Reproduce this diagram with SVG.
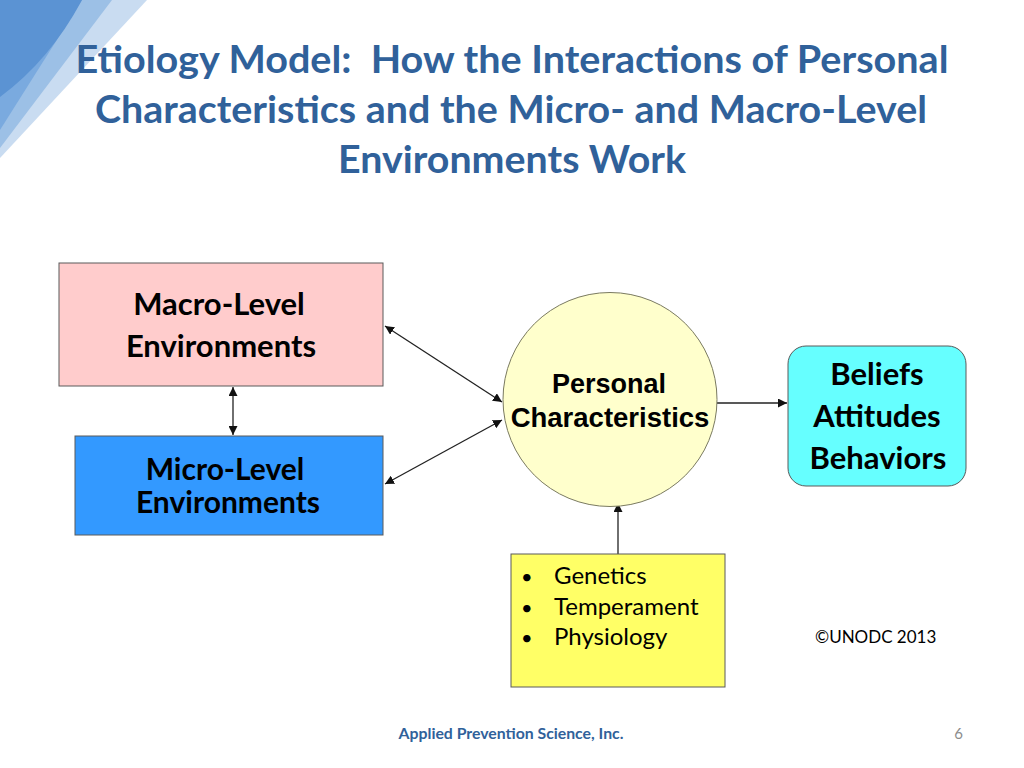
<svg xmlns="http://www.w3.org/2000/svg" width="1024" height="768" viewBox="0 0 1024 768">
<defs>
<style>
.title{font-family:Lato,"Open Sans","Liberation Sans",sans-serif;font-weight:bold;font-size:38px;fill:#30619A;text-anchor:middle}
.box{stroke:#5a5a5a;stroke-width:1}
.cal{font-family:Lato,"Open Sans","Liberation Sans",sans-serif;font-weight:bold;fill:#000;text-anchor:middle}
.ari{font-family:"Liberation Sans",Arial,sans-serif;font-weight:bold;fill:#000;text-anchor:middle}
.reg{font-family:Lato,"Open Sans","Liberation Sans",sans-serif;fill:#000}
.conn{stroke:#222;stroke-width:1.3;fill:none}
</style>
<marker id="ah" viewBox="0 0 10 10" refX="10" refY="5" markerWidth="9" markerHeight="9" markerUnits="userSpaceOnUse" orient="auto-start-reverse">
<path d="M0,0 L10,5 L0,10 Z" fill="#111"/>
</marker>
</defs>
<rect width="1024" height="768" fill="#fff"/>
<g id="decoration">
<polygon points="0,0 147,0 0,158" fill="#c9dcf1"/>
<polygon points="0,0 112,0 0,148" fill="#9cc0e6"/>
<polygon points="0,0 82,0 0,130" fill="#7aaadf"/>
<path d="M0,0 L82,0 Q50,60 0,97 Z" fill="#5b93d3"/>
</g>
<g id="title">
<text class="title" x="512" y="73" textLength="873" lengthAdjust="spacingAndGlyphs" xml:space="preserve">Etiology Model:  How the Interactions of Personal</text>
<text class="title" x="511" y="123" textLength="832" lengthAdjust="spacingAndGlyphs">Characteristics and the Micro- and Macro-Level</text>
<text class="title" x="512" y="173" textLength="348" lengthAdjust="spacingAndGlyphs">Environments Work</text>
</g>
<g id="connectors">
<line class="conn" x1="233" y1="387" x2="233" y2="435" marker-start="url(#ah)" marker-end="url(#ah)"/>
<line class="conn" x1="385" y1="326" x2="502" y2="402" marker-start="url(#ah)" marker-end="url(#ah)"/>
<line class="conn" x1="502" y1="420" x2="385" y2="484" marker-start="url(#ah)" marker-end="url(#ah)"/>
<line class="conn" x1="717" y1="403" x2="787" y2="403" marker-end="url(#ah)"/>
<line class="conn" x1="618" y1="554" x2="618" y2="503" marker-end="url(#ah)"/>
</g>
<g id="macro">
<rect class="box" x="59" y="263" width="324" height="123" fill="#FFCCCC"/>
<text class="cal" x="219" y="315" font-size="31">Macro-Level</text>
<text class="cal" x="221" y="357" font-size="31">Environments</text>
</g>
<g id="micro">
<rect class="box" x="75" y="436" width="308" height="99" fill="#3399FF"/>
<text class="cal" x="225" y="480" font-size="30">Micro-Level</text>
<text class="cal" x="228" y="513" font-size="30">Environments</text>
</g>
<g id="personal">
<circle cx="610" cy="399.5" r="107" fill="#FFFFCC" stroke="#7a7a60" stroke-width="1"/>
<text class="ari" x="609" y="393" font-size="27">Personal</text>
<text class="ari" x="610" y="427" font-size="27.5">Characteristics</text>
</g>
<g id="beliefs">
<rect class="box" x="788" y="346" width="178" height="140" rx="18" fill="#66FFFF"/>
<text class="cal" x="877" y="385" font-size="31">Beliefs</text>
<text class="cal" x="877" y="427" font-size="31">Attitudes</text>
<text class="cal" x="878" y="469" font-size="31">Behaviors</text>
</g>
<g id="factors">
<rect class="box" x="511" y="554" width="214" height="133" fill="#FFFF66"/>
<text class="reg" font-size="24"><tspan x="521" y="584" font-size="20">•</tspan><tspan x="554" y="584">Genetics</tspan></text>
<text class="reg" font-size="24"><tspan x="521" y="615" font-size="20">•</tspan><tspan x="554" y="615">Temperament</tspan></text>
<text class="reg" font-size="24"><tspan x="521" y="645" font-size="20">•</tspan><tspan x="554" y="645">Physiology</tspan></text>
</g>
<text class="reg" x="815" y="643" font-size="17">©UNODC 2013</text>
<g id="footer">
<text x="511" y="739" font-family="Lato,'Open Sans','Liberation Sans',sans-serif" font-weight="bold" font-size="15.8" fill="#30619A" text-anchor="middle">Applied Prevention Science, Inc.</text>
<text x="963" y="739" font-family="Lato,'Open Sans','Liberation Sans',sans-serif" font-size="15" fill="#8c8c8c" text-anchor="end">6</text>
</g>
</svg>
